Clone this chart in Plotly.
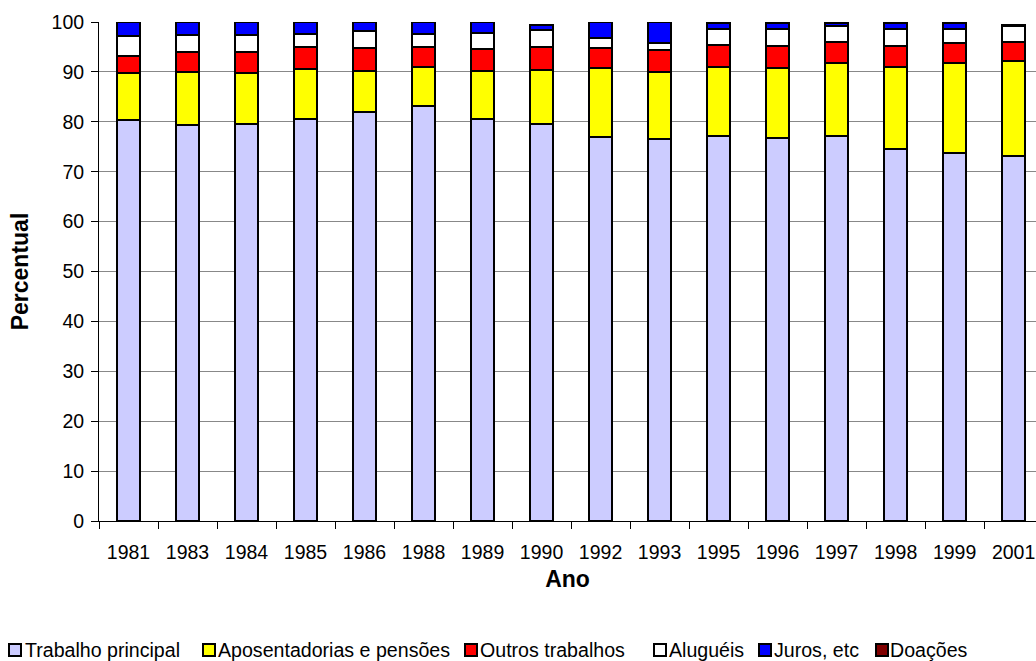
import plotly.graph_objects as go

anos = ["1981", "1983", "1984", "1985", "1986", "1988", "1989", "1990",
        "1992", "1993", "1995", "1996", "1997", "1998", "1999", "2001"]

trabalho_principal = [80.4, 79.3, 79.5, 80.5, 81.9, 83.2, 80.6, 79.5,
                      77.0, 76.5, 77.1, 76.8, 77.1, 74.6, 73.8, 73.2]
aposentadorias = [9.3, 10.6, 10.2, 10.0, 8.3, 7.7, 9.5, 10.8,
                  13.7, 13.5, 13.8, 13.9, 14.7, 16.4, 18.0, 18.9]
outros_trabalhos = [3.5, 4.0, 4.2, 4.4, 4.6, 4.0, 4.4, 4.7,
                    4.1, 4.3, 4.4, 4.4, 4.1, 4.2, 3.9, 3.9]
alugueis = [4.0, 3.4, 3.4, 2.6, 3.3, 2.6, 3.2, 3.3,
            1.9, 1.4, 3.3, 3.5, 3.2, 3.4, 2.9, 3.1]
juros = [2.8, 2.7, 2.7, 2.5, 1.9, 2.5, 2.3, 1.2,
         3.3, 4.3, 1.3, 1.3, 0.7, 1.2, 1.2, 0.4]
doacoes = [0.0, 0.0, 0.0, 0.0, 0.0, 0.0, 0.0, 0.0,
           0.0, 0.0, 0.0, 0.0, 0.2, 0.2, 0.2, 0.0]

series_names = ["Trabalho principal", "Aposentadorias e pensões", "Outros trabalhos",
                "Aluguéis", "Juros, etc", "Doações"]
series_values = [trabalho_principal, aposentadorias, outros_trabalhos, alugueis, juros, doacoes]
colors = ["#CCCCFF", "#FFFF00", "#FF0000", "#FFFFFF", "#0000FF", "#800000"]

FONT = "Liberation Sans, Arial, sans-serif"
W, H = 1036, 661
ML, MT, MR = 99, 22, 0
PH = 499
MB = H - MT - PH
PW = W - ML - MR

fig = go.Figure()
for name, vals, col in zip(series_names, series_values, colors):
    fig.add_trace(go.Bar(
        x=anos, y=vals, name=name,
        marker=dict(color=col, line=dict(color="black", width=2)),
        showlegend=False,
    ))

# custom legend (symbol + text), positions in page pixels
legend_sym_px = [9, 203, 465, 654, 759, 876]
legend_txt_px = [23, 216, 478, 667, 772, 888]
leg_cy = 650


def px2x(p):
    return (p - ML) / PW


def py2y(p):
    return (MT + PH - p) / PH


for name, col, sx, tx in zip(series_names, colors, legend_sym_px, legend_txt_px):
    fig.add_shape(type="rect", xref="paper", yref="paper",
                  x0=px2x(sx), x1=px2x(sx + 12), y0=py2y(leg_cy + 6), y1=py2y(leg_cy - 6),
                  fillcolor=col, line=dict(color="black", width=2))
    fig.add_annotation(text=name, xref="paper", yref="paper",
                       x=px2x(tx), y=py2y(leg_cy), xanchor="left", yanchor="middle",
                       showarrow=False, font=dict(family=FONT, size=19.6, color="black"))

fig.update_layout(
    barmode="stack",
    bargap=0.6,
    width=W, height=H,
    margin=dict(l=ML, r=MR, t=MT, b=MB, pad=0),
    paper_bgcolor="white",
    plot_bgcolor="white",
    font=dict(family=FONT, size=19.5, color="black"),
    xaxis=dict(
        type="category",
        range=[-0.5, 15.38],
        showline=True, linecolor="black", linewidth=1,
        ticks="outside", tickson="boundaries", ticklen=7, tickcolor="black",
        ticklabelstandoff=14,
        showgrid=False,
        tickfont=dict(family=FONT, size=19.5),
        title=dict(text="<b>Ano</b>", font=dict(family=FONT, size=23), standoff=8),
    ),
    yaxis=dict(
        range=[0, 100], dtick=10,
        showline=True, linecolor="black", linewidth=1,
        ticks="outside", ticklen=7, tickcolor="black",
        ticklabelstandoff=3,
        showgrid=True, gridcolor="#888888", gridwidth=1,
        zeroline=False,
        tickfont=dict(family=FONT, size=19.5),
        title=dict(text="<b>Percentual</b>", font=dict(family=FONT, size=23), standoff=16),
    ),
)

fig.write_html(
    "out.html",
    config={"displayModeBar": False},
    post_script="document.body.style.margin='0';"
                "document.documentElement.style.overflow='hidden';"
                "document.body.style.overflow='hidden';",
)
